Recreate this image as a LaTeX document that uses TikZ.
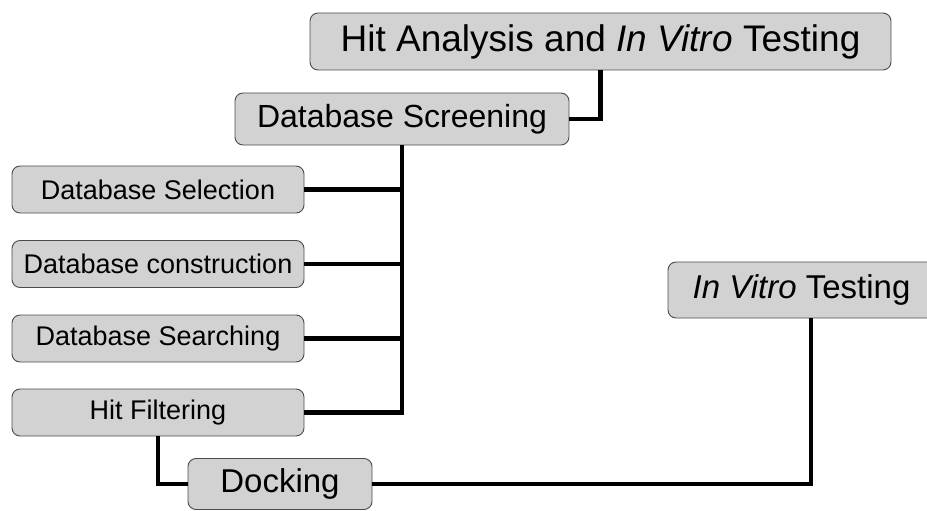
\documentclass[tikz,border=0pt]{standalone}
\usepackage{fontspec}
\setmainfont{Liberation Sans}

\begin{document}
\begin{tikzpicture}[x = 1pt, y = -1pt,
	box/.style = {draw = black!70, line width = 0.9pt, fill = gray!35, rounded corners = 8pt, inner sep = 0pt},
	small/.style = {box, minimum width = 292pt, minimum height = 47pt, font = \fontsize{27}{32}\selectfont},
	link/.style = {line width = 4.5pt}]

	\useasboundingbox (0, 0) rectangle (927, 511);

	% Boxes

	\node [box, minimum width = 581pt, minimum height = 57pt, font = \fontsize{37}{44}\selectfont] (top) at (600.5, 41.5) {Hit Analysis and \textit{In Vitro} Testing};
	\node [box, minimum width = 334pt, minimum height = 52pt, font = \fontsize{32}{38}\selectfont] (ds) at (402, 119) {Database Screening};

	\node [small] (sel) at (158, 189.5) {Database Selection};
	\node [small] (con) at (158, 264) {Database construction};
	\node [small] (sea) at (158, 338.5) {Database Searching};
	\node [small] (hf) at (158, 412.5) {Hit Filtering};

	\node [box, minimum width = 184pt, minimum height = 51pt, font = \fontsize{33}{40}\selectfont] (dock) at (280, 484) {Docking};
	\node [box, minimum width = 267pt, minimum height = 56pt, font = \fontsize{33}{40}\selectfont] (ivt) at (801.5, 290) {\textit{In Vitro} Testing};

	% Connectors

	\draw [link] (ds.east) -| (top.south);
	\draw [link] (ds.south) |- (hf.east);

	\foreach \n in {sel, con, sea}
	{
		\draw [link] (\n.east) -- (\n.east -| ds.south);
	}

	\draw [link] (hf.south) |- (dock.west);
	\draw [link] (dock.east) -| ([xshift = 9.5pt] ivt.south);

\end{tikzpicture}
\end{document}
